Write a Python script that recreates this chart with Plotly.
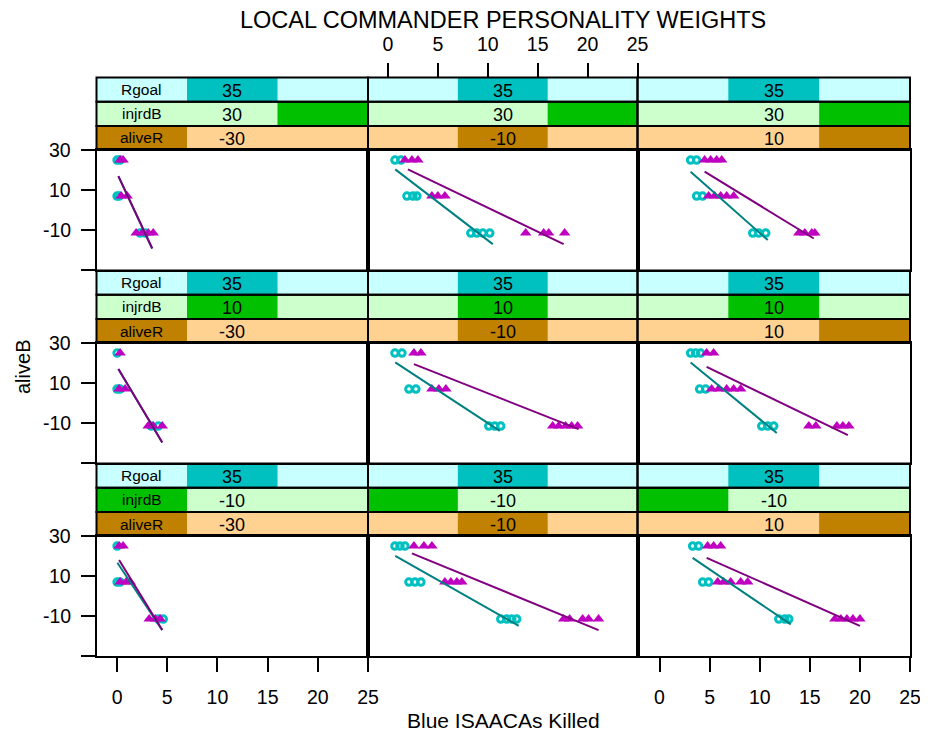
import plotly.graph_objects as go

W, H = 928, 737
OFFSET = 8  # page body margin shifts the figure by this many pixels

# ---------------- data ----------------
X_TICKS = [0, 5, 10, 15, 20, 25]
Y_TICKS = [30, 10, -10, -30]
Y_TICK_TEXT = ["30", "10", "-10", ""]

ALIVEB_LEVELS = [25, 7, -11.5]          # y positions of the three aliveB groups
RGOAL_VALUE = 35
INJRDB_ROWS = [30, 10, -10]             # panel rows (top to bottom)
ALIVER_COLS = [-30, -10, 10]            # panel columns (left to right)
INJRDB_LEVELS = [-10, 10, 30]
ALIVER_LEVELS = [-30, -10, 10]
RGOAL_SLOT = 1                          # Rgoal=35 shaded in middle of 3 slots

# Blue ISAACAs killed, per panel, per aliveB level (circles = group 1, triangles = group 2)
circ_r1c1 = [[0.0, 0.3], [0.0, 0.2], [2.3, 2.8]]
tri_r1c1 = [[0.3, 0.6], [0.4, 1.0], [1.9, 2.5, 3.1, 3.6]]
circ_r1c2 = [[0.7, 1.3], [1.9, 2.5, 2.9], [8.3, 8.9, 9.5, 10.2]]
tri_r1c2 = [[1.7, 2.4, 3.0], [4.4, 5.0, 5.7], [13.8, 15.6, 16.1, 17.7]]
circ_r1c3 = [[3.1, 3.7], [3.7, 4.3], [9.3, 9.9, 10.6]]
tri_r1c3 = [[4.5, 5.1, 5.7, 6.2], [4.9, 5.5, 6.1, 6.7, 7.4], [13.9, 14.5, 15.2, 15.5]]

circ_r2c1 = [[0.0], [0.0, 0.3], [3.4, 4.1]]
tri_r2c1 = [[0.3], [0.2, 0.8], [3.1, 3.6, 4.5]]
circ_r2c2 = [[0.7, 1.4], [2.1, 2.8], [10.1, 10.7, 11.3]]
tri_r2c2 = [[2.6, 3.3], [4.4, 5.1, 5.8], [16.5, 17.1, 17.8, 18.4, 19.0]]
circ_r2c3 = [[3.1, 3.6, 4.1], [4.0, 4.6], [10.2, 10.8, 11.4]]
tri_r2c3 = [[4.7, 5.4], [5.2, 5.9, 6.7, 7.4, 8.1], [14.9, 15.6, 17.7, 18.3, 18.9]]

circ_r3c1 = [[0.0], [0.0, 0.3], [4.1, 4.6]]
tri_r3c1 = [[0.2, 0.6], [0.3, 0.9, 1.3], [3.2, 3.8, 4.3]]
circ_r3c2 = [[0.7, 1.2, 1.7], [2.1, 2.7, 3.3], [11.3, 11.9, 12.4, 12.9]]
tri_r3c2 = [[2.6, 3.6, 4.4], [5.7, 6.3, 6.9, 7.4], [17.6, 18.2, 19.5, 20.1, 21.1]]
circ_r3c3 = [[3.3, 3.9], [4.3, 4.9], [11.9, 12.5, 12.9]]
tri_r3c3 = [[4.8, 5.4, 6.1], [5.8, 6.4, 7.1, 8.1, 8.8], [17.5, 18.1, 18.7, 19.3, 20.0]]

# fitted lines: ([x_start, x_end], [y_start, y_end])
fitc_r1c1 = ([0.13, 3.5], [17, -19.2]);  fitt_r1c1 = ([0.13, 3.5], [17, -19.2])
fitc_r1c2 = ([0.73, 10.5], [20.35, -17]); fitt_r1c2 = ([2.0, 17.6], [20.35, -17])
fitc_r1c3 = ([3.1, 10.8], [19.2, -15]);  fitt_r1c3 = ([4.5, 15.4], [19.2, -14.2])
fitc_r2c1 = ([0.13, 4.5], [17, -19.7]);  fitt_r2c1 = ([0.13, 4.5], [17, -19.7])
fitc_r2c2 = ([0.73, 11.2], [20.35, -13.85]); fitt_r2c2 = ([2.6, 19.1], [19.5, -13])
fitc_r2c3 = ([3.1, 11.7], [20.35, -15]); fitt_r2c3 = ([4.7, 18.8], [18.15, -16])
fitc_r3c1 = ([0.03, 4.5], [16.7, -17]);  fitt_r3c1 = ([0.2, 4.5], [18, -17])
fitc_r3c2 = ([0.73, 13.1], [20.15, -14.85]); fitt_r3c2 = ([2.4, 21.1], [21.35, -17])
fitc_r3c3 = ([3.3, 13.1], [19.15, -14.15]); fitt_r3c3 = ([4.7, 20.0], [19.15, -14.85])

CIRC = [[circ_r1c1, circ_r1c2, circ_r1c3], [circ_r2c1, circ_r2c2, circ_r2c3], [circ_r3c1, circ_r3c2, circ_r3c3]]
TRI = [[tri_r1c1, tri_r1c2, tri_r1c3], [tri_r2c1, tri_r2c2, tri_r2c3], [tri_r3c1, tri_r3c2, tri_r3c3]]
FITC = [[fitc_r1c1, fitc_r1c2, fitc_r1c3], [fitc_r2c1, fitc_r2c2, fitc_r2c3], [fitc_r3c1, fitc_r3c2, fitc_r3c3]]
FITT = [[fitt_r1c1, fitt_r1c2, fitt_r1c3], [fitt_r2c1, fitt_r2c2, fitt_r2c3], [fitt_r3c1, fitt_r3c2, fitt_r3c3]]

# ---------------- layout geometry (pixels in the final picture) ----------------
COL_X = [(96.5, 368.0), (368.0, 637.5), (637.5, 910.0)]
X_RANGES = [[-2.05, 25.0], [-2.0, 25.0], [-2.2, 25.0]]
ROW_TOP = [77.5, 270.5, 463.5]
STRIP_H = 24.2
PANEL_H = 120.0

CYAN = "#00C0C0"
MAGENTA = "#C000C0"
TEAL = "#008080"
PURPLE = "#800080"
STRIP_LIGHT = ["#C8FFFF", "#CCFFCC", "#FFD291"]
STRIP_DARK = ["#00C0C0", "#00C000", "#C08000"]
STRIP_NAMES = ["Rgoal", "injrdB", "aliveR"]
FONT = "Liberation Sans, Arial, sans-serif"
TICK_SIZE = 19.5


def px(x):
    return (x - OFFSET) / W


def py(y):
    return 1 - (y - OFFSET) / H


fig = go.Figure()
layout = dict(
    width=W, height=H, autosize=False,
    margin=dict(l=0, r=0, t=0, b=0, pad=0, autoexpand=False),
    paper_bgcolor="white", plot_bgcolor="white",
    showlegend=False,
    font=dict(family=FONT, color="black"),
)
shapes = []
annotations = []

for r in range(3):
    strip_top = ROW_TOP[r]
    panel_top = strip_top + 3 * STRIP_H
    panel_bot = panel_top + PANEL_H
    for c in range(3):
        idx = r * 3 + c + 1
        xs = "x" if idx == 1 else f"x{idx}"
        ys = "y" if idx == 1 else f"y{idx}"
        xk = "xaxis" if idx == 1 else f"xaxis{idx}"
        yk = "yaxis" if idx == 1 else f"yaxis{idx}"
        x0, x1 = COL_X[c]

        show_xt = (r == 2 and c in (0, 2))
        layout[xk] = dict(
            domain=[px(x0), px(x1)], range=X_RANGES[c], anchor=ys, automargin=False,
            showline=True, mirror=True, linewidth=2, linecolor="black",
            showgrid=False, zeroline=False,
            ticks="outside" if show_xt else "", ticklen=14, tickwidth=2, tickcolor="black",
            tickvals=X_TICKS, showticklabels=show_xt,
            tickfont=dict(size=TICK_SIZE, family=FONT, color="black"),
            ticklabelstandoff=8,
        )
        show_yt = (c == 0)
        layout[yk] = dict(
            domain=[py(panel_bot), py(panel_top)], range=[-30, 30], anchor=xs, automargin=False,
            showline=True, mirror=True, linewidth=2, linecolor="black",
            showgrid=False, zeroline=False,
            ticks="outside" if show_yt else "", ticklen=14, tickwidth=2, tickcolor="black",
            tickvals=Y_TICKS, showticklabels=False,
        )
        if show_yt:
            for tv, tt in zip(Y_TICKS, Y_TICK_TEXT):
                if tt:
                    annotations.append(dict(xref="paper", yref=ys, x=px(73), y=tv, text=tt,
                                            showarrow=False, xanchor="right", yanchor="middle",
                                            font=dict(size=TICK_SIZE, family=FONT, color="black")))

        # points
        cx, cy, tx, ty = [], [], [], []
        for li, lev in enumerate(ALIVEB_LEVELS):
            for v in CIRC[r][c][li]:
                cx.append(v); cy.append(lev)
            for v in TRI[r][c][li]:
                tx.append(v); ty.append(lev)
        fig.add_trace(go.Scatter(
            x=cx, y=cy, mode="markers", xaxis=xs, yaxis=ys, hoverinfo="skip",
            marker=dict(symbol="circle-open", size=6.5, color=CYAN, line=dict(width=3, color=CYAN)),
        ))
        fig.add_trace(go.Scatter(
            x=tx, y=ty, mode="markers", xaxis=xs, yaxis=ys, hoverinfo="skip",
            marker=dict(symbol="triangle-up", size=10, color=MAGENTA, line=dict(width=0)),
        ))
        fx, fy = FITC[r][c]
        fig.add_trace(go.Scatter(x=fx, y=fy, mode="lines", xaxis=xs, yaxis=ys, hoverinfo="skip",
                                 line=dict(color=TEAL, width=2)))
        fx, fy = FITT[r][c]
        fig.add_trace(go.Scatter(x=fx, y=fy, mode="lines", xaxis=xs, yaxis=ys, hoverinfo="skip",
                                 line=dict(color=PURPLE, width=2)))

        # strips
        values = [RGOAL_VALUE, INJRDB_ROWS[r], ALIVER_COLS[c]]
        slots = [RGOAL_SLOT, INJRDB_LEVELS.index(INJRDB_ROWS[r]), ALIVER_LEVELS.index(ALIVER_COLS[c])]
        wthird = (x1 - x0) / 3
        for k in range(3):
            yt = strip_top + k * STRIP_H
            yb = yt + STRIP_H
            shapes.append(dict(type="rect", xref="paper", yref="paper",
                               x0=px(x0), x1=px(x1), y0=py(yb), y1=py(yt),
                               fillcolor=STRIP_LIGHT[k], line=dict(width=0), layer="below"))
            sx0 = x0 + slots[k] * wthird
            shapes.append(dict(type="rect", xref="paper", yref="paper",
                               x0=px(sx0), x1=px(sx0 + wthird), y0=py(yb), y1=py(yt),
                               fillcolor=STRIP_DARK[k], line=dict(width=0), layer="below"))
            shapes.append(dict(type="rect", xref="paper", yref="paper",
                               x0=px(x0), x1=px(x1), y0=py(yb), y1=py(yt),
                               fillcolor="rgba(0,0,0,0)", line=dict(width=2, color="black")))
            annotations.append(dict(xref="paper", yref="paper", x=px((x0 + x1) / 2), y=py((yt + yb) / 2 + 1),
                                    text=str(values[k]), showarrow=False, xanchor="center", yanchor="middle",
                                    font=dict(size=18, family=FONT, color="black")))
            if c == 0:
                annotations.append(dict(xref="paper", yref="paper", x=px(x0 + wthird / 2), y=py((yt + yb) / 2),
                                        text=STRIP_NAMES[k], showarrow=False, xanchor="center", yanchor="middle",
                                        font=dict(size=15.5, family=FONT, color="black")))

# top axis for middle column (alternating lattice axis)
layout["xaxis10"] = dict(
    domain=[px(COL_X[1][0]), px(COL_X[1][1])], range=X_RANGES[1], anchor="y10", side="top",
    showline=False, showgrid=False, zeroline=False, automargin=False,
    ticks="outside", ticklen=14, tickwidth=2, tickcolor="black", tickvals=X_TICKS,
    tickfont=dict(size=TICK_SIZE, family=FONT, color="black"), ticklabelstandoff=4,
)
layout["yaxis10"] = dict(domain=[py(ROW_TOP[0] + 3 * STRIP_H), py(ROW_TOP[0])], range=[0, 1],
                         anchor="x10", visible=False, automargin=False)
fig.add_trace(go.Scatter(x=[None], y=[None], xaxis="x10", yaxis="y10", mode="markers", hoverinfo="skip"))

annotations.append(dict(xref="paper", yref="paper", x=px(503), y=py(20),
                        text="LOCAL COMMANDER PERSONALITY WEIGHTS", showarrow=False,
                        xanchor="center", yanchor="middle", font=dict(size=23.5, family=FONT, color="black")))
annotations.append(dict(xref="paper", yref="paper", x=px(503), y=py(720),
                        text="Blue ISAACAs Killed", showarrow=False,
                        xanchor="center", yanchor="middle", font=dict(size=21, family=FONT, color="black")))
annotations.append(dict(xref="paper", yref="paper", x=px(23), y=py(367),
                        text="aliveB", showarrow=False, textangle=-90,
                        xanchor="center", yanchor="middle", font=dict(size=20, family=FONT, color="black")))

layout["shapes"] = shapes
layout["annotations"] = annotations
fig.update_layout(**layout)
fig.write_html("out.html")
